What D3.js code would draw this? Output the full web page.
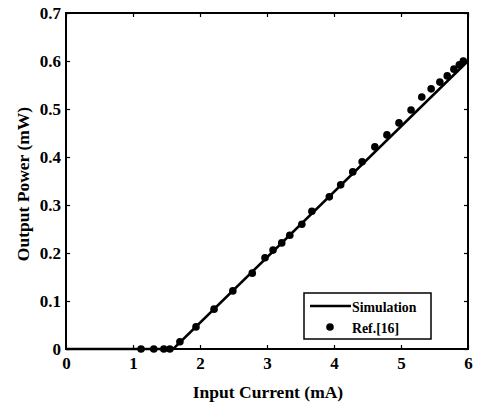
<!DOCTYPE html>
<html><head><meta charset="utf-8">
<script src="https://cdn.jsdelivr.net/npm/d3@7"></script>
<style>body{margin:0;background:#fff}svg{display:block}</style>
</head><body>
<svg id="c" width="481" height="403"></svg>
<script>
const refCurrent = [1.12,1.31,1.46,1.55,1.70,1.94,2.21,2.49,2.78,2.97,3.09,3.22,3.34,3.52,3.67,3.93,4.10,4.28,4.42,4.61,4.79,4.97,5.15,5.31,5.45,5.58,5.69,5.79,5.87,5.93];
const refPower   = [0,0,0,0,0.015,0.046,0.083,0.121,0.158,0.19,0.206,0.221,0.237,0.26,0.287,0.317,0.342,0.369,0.39,0.421,0.446,0.471,0.498,0.525,0.542,0.556,0.569,0.583,0.592,0.6];
const simCurrent = [0,1.6,6];
const simPower   = [0,0,0.6];
const xTicks = [0,1,2,3,4,5,6];
const yTicks = [0,0.1,0.2,0.3,0.4,0.5,0.6,0.7];

const svg = d3.select('#c');
const L=66,R=468,T=13,B=349;
const x = d3.scaleLinear().domain([0,6]).range([L,R]);
const y = d3.scaleLinear().domain([0,0.7]).range([B,T]);
const font = '"Liberation Serif","Times New Roman",serif';

// frame
svg.append('rect').attr('x',L).attr('y',T).attr('width',R-L).attr('height',B-T)
  .attr('fill','none').attr('stroke','#000').attr('stroke-width',2);

const fmtY = d => d===0 ? '0' : d3.format('.1f')(d);
const ax = svg.append('g').attr('transform',`translate(0,${B})`)
  .call(d3.axisBottom(x).tickValues(xTicks).tickSize(-4).tickPadding(8).tickFormat(d3.format('d')));
const axT = svg.append('g').attr('transform',`translate(0,${T})`)
  .call(d3.axisTop(x).tickValues(xTicks).tickSize(-4).tickFormat(''));
const ay = svg.append('g').attr('transform',`translate(${L},0)`)
  .call(d3.axisLeft(y).tickValues(yTicks).tickSize(-4).tickPadding(5).tickFormat(fmtY));
const ayR = svg.append('g').attr('transform',`translate(${R},0)`)
  .call(d3.axisRight(y).tickValues(yTicks).tickSize(-4).tickFormat(''));
[ax,axT,ay,ayR].forEach(g=>{
  g.select('.domain').remove();
  g.selectAll('.tick line').attr('stroke','#000').attr('stroke-width',1.2);
  g.selectAll('text').attr('fill','#000').style('font-family',font).style('font-weight','bold').style('font-size','17px');
});

// simulation line
const pts = simCurrent.map((c,i)=>[c,simPower[i]]);
svg.append('path').datum(pts)
  .attr('d', d3.line().x(d=>x(d[0])).y(d=>y(d[1])))
  .attr('fill','none').attr('stroke','#000').attr('stroke-width',2.5);

// reference points
svg.append('g').selectAll('circle').data(refCurrent.map((c,i)=>[c,refPower[i]])).join('circle')
  .attr('cx',d=>x(d[0])).attr('cy',d=>y(d[1])).attr('r',3.8).attr('fill','#000');

// axis titles
svg.append('text').attr('x',268).attr('y',398).attr('text-anchor','middle')
  .style('font-family',font).style('font-weight','bold').style('font-size','17.5px').text('Input Current (mA)');
svg.append('text').attr('transform',`translate(29,${184}) rotate(-90)`).attr('text-anchor','middle')
  .style('font-family',font).style('font-weight','bold').style('font-size','17.5px').text('Output Power (mW)');

// legend
const lg = svg.append('g');
lg.append('rect').attr('x',304).attr('y',293).attr('width',127).attr('height',46)
  .attr('fill','#fff').attr('stroke','#000').attr('stroke-width',1.5);
lg.append('line').attr('x1',310).attr('x2',351).attr('y1',306).attr('y2',306).attr('stroke','#000').attr('stroke-width',2.5);
lg.append('circle').attr('cx',330).attr('cy',327).attr('r',3.8).attr('fill','#000');
lg.append('text').attr('x',352).attr('y',312).style('font-family',font).style('font-weight','bold').style('font-size','13.8px').text('Simulation');
lg.append('text').attr('x',352).attr('y',333).style('font-family',font).style('font-weight','bold').style('font-size','13.8px').text('Ref.[16]');
</script>
</body></html>
